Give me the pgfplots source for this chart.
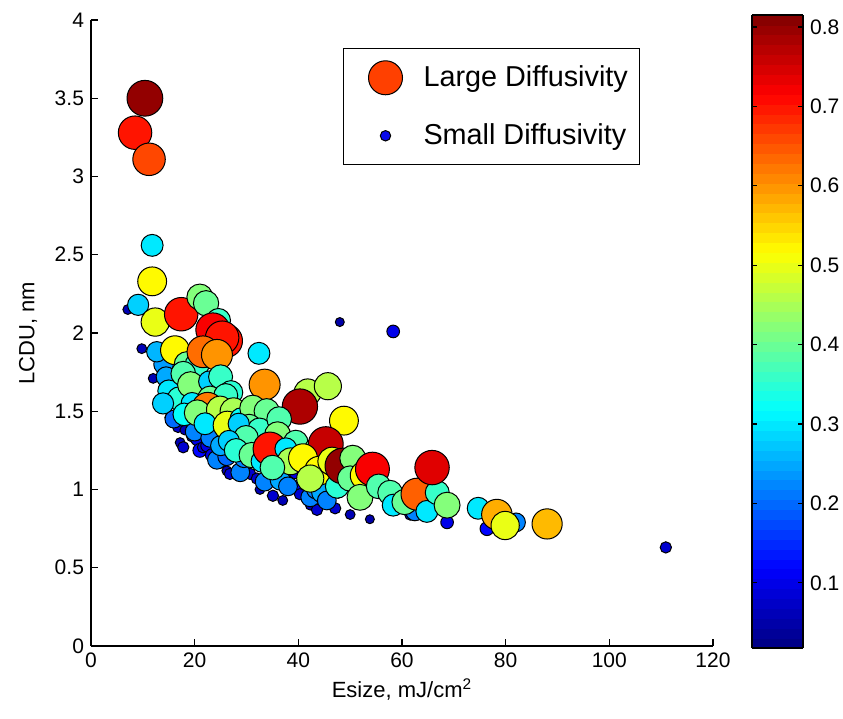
\documentclass[border=0pt]{standalone}
\usepackage{fontspec}
\setmainfont{Liberation Sans}
\usepackage{pgfplots}
\pgfplotsset{compat=1.18}
\usepackage{pgfplotstable}

\pgfplotstableread{
x y c
7.1 2.15 0.06
9.8 1.90 0.06
12.0 1.71 0.06
14.9 1.62 0.08
15.8 1.59 0.12
16.6 1.56 0.08
15.2 1.46 0.06
16.8 1.40 0.08
17.2 1.30 0.06
17.8 1.27 0.08
18.1 1.38 0.06
19.1 1.44 0.10
19.5 1.34 0.08
20.5 1.32 0.10
21.0 1.25 0.12
21.6 1.27 0.08
22.4 1.28 0.10
23.3 1.22 0.10
24.9 1.17 0.08
26.2 1.12 0.06
26.8 1.10 0.08
28.2 1.10 0.08
29.7 1.19 0.10
30.7 1.10 0.08
32.0 1.07 0.08
32.6 1.00 0.06
35.1 0.96 0.08
37.0 0.93 0.06
39.4 1.11 0.10
40.3 1.02 0.12
40.3 0.97 0.08
42.3 0.90 0.06
43.6 0.87 0.08
47.1 0.88 0.08
47.7 0.98 0.08
50.0 0.84 0.06
53.8 0.81 0.05
61.6 0.84 0.08
68.7 0.79 0.10
76.4 0.75 0.12
48.0 2.07 0.05
58.3 2.01 0.10
110.9 0.63 0.08
}\datasmall

\pgfplotstableread{
x y c
24.3 1.19 0.22
26.2 1.21 0.20
28.8 1.11 0.22
42.3 0.95 0.22
43.4 1.00 0.22
82.0 0.79 0.22
16.0 1.45 0.20
20.0 1.37 0.22
23.0 1.33 0.22
25.0 1.28 0.25
29.5 1.20 0.22
33.5 1.05 0.22
36.5 1.06 0.25
38.0 1.02 0.22
44.5 0.98 0.25
45.5 0.93 0.22
62.5 0.86 0.22
14.0 1.80 0.24
}\datamid

\pgfplotstableread{
x y c
10.4 3.50 0.80
8.5 3.28 0.70
11.2 3.11 0.66
11.8 2.56 0.30
11.8 2.33 0.52
9.1 2.18 0.28
12.4 2.07 0.50
17.4 2.12 0.70
21.0 2.23 0.42
22.2 2.19 0.40
24.6 2.08 0.36
26.0 1.95 0.70
23.5 2.02 0.72
25.3 1.97 0.70
12.7 1.88 0.26
16.2 1.89 0.52
18.5 1.80 0.40
20.5 1.80 0.36
21.6 1.88 0.63
24.3 1.86 0.60
32.4 1.87 0.30
14.5 1.72 0.25
15.0 1.63 0.30
17.8 1.74 0.38
17.0 1.58 0.35
19.2 1.67 0.42
22.8 1.69 0.28
23.0 1.58 0.40
25.0 1.72 0.36
27.0 1.62 0.35
26.0 1.60 0.36
33.5 1.67 0.60
41.8 1.62 0.46
45.7 1.66 0.46
40.3 1.53 0.78
48.8 1.44 0.52
13.9 1.55 0.28
19.5 1.55 0.30
22.5 1.52 0.62
18.0 1.48 0.32
20.5 1.49 0.42
24.9 1.51 0.46
27.5 1.50 0.45
22.0 1.42 0.30
26.3 1.41 0.50
29.0 1.45 0.32
31.2 1.52 0.42
33.9 1.50 0.40
30.5 1.40 0.40
32.5 1.38 0.36
36.3 1.45 0.38
36.0 1.35 0.42
28.5 1.42 0.28
29.9 1.33 0.38
26.6 1.31 0.28
28.0 1.25 0.35
31.0 1.22 0.40
33.0 1.18 0.30
34.5 1.26 0.70
39.5 1.30 0.38
37.6 1.26 0.30
43.5 1.25 0.40
45.3 1.29 0.76
38.5 1.18 0.45
40.9 1.20 0.52
35.0 1.14 0.38
44.0 1.12 0.52
46.5 1.18 0.50
42.3 1.07 0.46
47.5 1.02 0.35
48.6 1.15 0.80
50.5 1.20 0.42
50.0 1.07 0.40
52.8 1.09 0.52
54.3 1.13 0.72
51.9 0.95 0.42
55.5 1.02 0.38
57.7 0.98 0.38
58.3 0.90 0.30
60.5 0.92 0.40
62.9 0.97 0.64
64.8 0.86 0.30
66.8 0.98 0.36
68.7 0.90 0.42
65.8 1.14 0.74
74.7 0.88 0.30
78.3 0.84 0.58
79.9 0.77 0.50
88.0 0.78 0.57
}\databig

\definecolor{legred}{RGB}{255,64,0}
\definecolor{legblue}{RGB}{10,10,235}

\begin{document}
\begin{tikzpicture}
\useasboundingbox (-45.5pt,-36.5pt) rectangle (376pt,323pt);
\begin{axis}[
  name=main, at={(0pt,0pt)}, anchor=south west,
  scale only axis, width=311pt, height=313pt,
  xmin=0, xmax=120, ymin=0, ymax=4,
  axis x line*=bottom, axis y line*=left,
  axis line style={line width=0.6pt},
  xtick={0,20,40,60,80,100,120},
  ytick={0,0.5,1,1.5,2,2.5,3,3.5,4},
  tick align=inside, major tick length=3.5pt,
  tick style={line width=0.6pt, black},
  /pgf/number format/assume math mode=true,
  tick label style={font=\fontsize{10.5}{12}\selectfont},
  xlabel={Esize, mJ/cm\textsuperscript{2}},
  ylabel={LCDU, nm},
  label style={font=\fontsize{11}{13}\selectfont},
  xlabel style={at={(axis description cs:0.5,0)}, anchor=center, yshift=-22pt},
  ylabel style={at={(axis description cs:-0.101,0.5)}, anchor=center},
  colormap/jet,
  point meta min=0.018, point meta max=0.815,
  colorbar sampled,
  colorbar/width=25.5pt,
  colorbar style={
    scale only axis,
    axis lines=box, enlargelimits=false,
    samples=65,
    at={(parent axis.north east)}, anchor=north west,
    xshift=11pt, yshift=2.5pt,
    width=25.5pt, height=316.5pt,
    ytick={0.1,0.2,0.3,0.4,0.5,0.6,0.7,0.8},
    ytick pos=both, yticklabel pos=right,
    tick align=inside, major tick length=2.5pt,
    tick style={line width=0.6pt, black},
    axis line style={line width=0.6pt},
    /pgf/number format/assume math mode=true,
    yticklabel style={font=\fontsize{10.5}{12}\selectfont,
      /pgf/number format/.cd, fixed, fixed zerofill, precision=1},
  },
  legend style={
    at={(0.405,0.955)}, anchor=north west,
    draw=black, line width=0.6pt, fill=white,
    font=\fontsize{14.4}{16}\selectfont,
    row sep=12pt, inner xsep=4pt, inner ysep=6pt,
    legend cell align=left,
  },
  legend image code/.code={
    \path[draw=none, fill=none] (0pt,-8.5pt) rectangle (34pt,8.5pt);
    \draw[#1] plot coordinates {(17pt,0pt)};
  },
]
\addplot[scatter, only marks, mark=*, forget plot,
  scatter src=explicit,
  scatter/use mapped color={draw=black, fill=mapped color},
  visualization depends on={10*sqrt(\thisrow{c}) \as \msize},
  scatter/@pre marker code/.append style={/tikz/mark size=\msize},
  mark options={line width=0.5pt}]
  table[x=x, y=y, meta=c] {\datasmall};
\addplot[scatter, only marks, mark=*, forget plot,
  scatter src=explicit,
  scatter/use mapped color={draw=black, fill=mapped color},
  visualization depends on={10*sqrt(\thisrow{c}) \as \msize},
  scatter/@pre marker code/.append style={/tikz/mark size=\msize},
  mark options={line width=0.5pt}]
  table[x=x, y=y, meta=c] {\datamid};
\addplot[scatter, only marks, mark=*, forget plot,
  scatter src=explicit,
  scatter/use mapped color={draw=black, fill=mapped color},
  visualization depends on={10*sqrt(\thisrow{c}) \as \msize},
  scatter/@pre marker code/.append style={/tikz/mark size=\msize},
  mark options={line width=0.5pt}]
  table[x=x, y=y, meta=c] {\databig};
\addlegendimage{only marks, mark=*, mark size=8.5pt, mark options={fill=legred, draw=black, line width=0.5pt}}
\addlegendentry{Large Diffusivity}
\addlegendimage{only marks, mark=*, mark size=2.6pt, mark options={fill=legblue, draw=black, line width=0.5pt}}
\addlegendentry{Small Diffusivity}
\end{axis}
\end{tikzpicture}
\end{document}
